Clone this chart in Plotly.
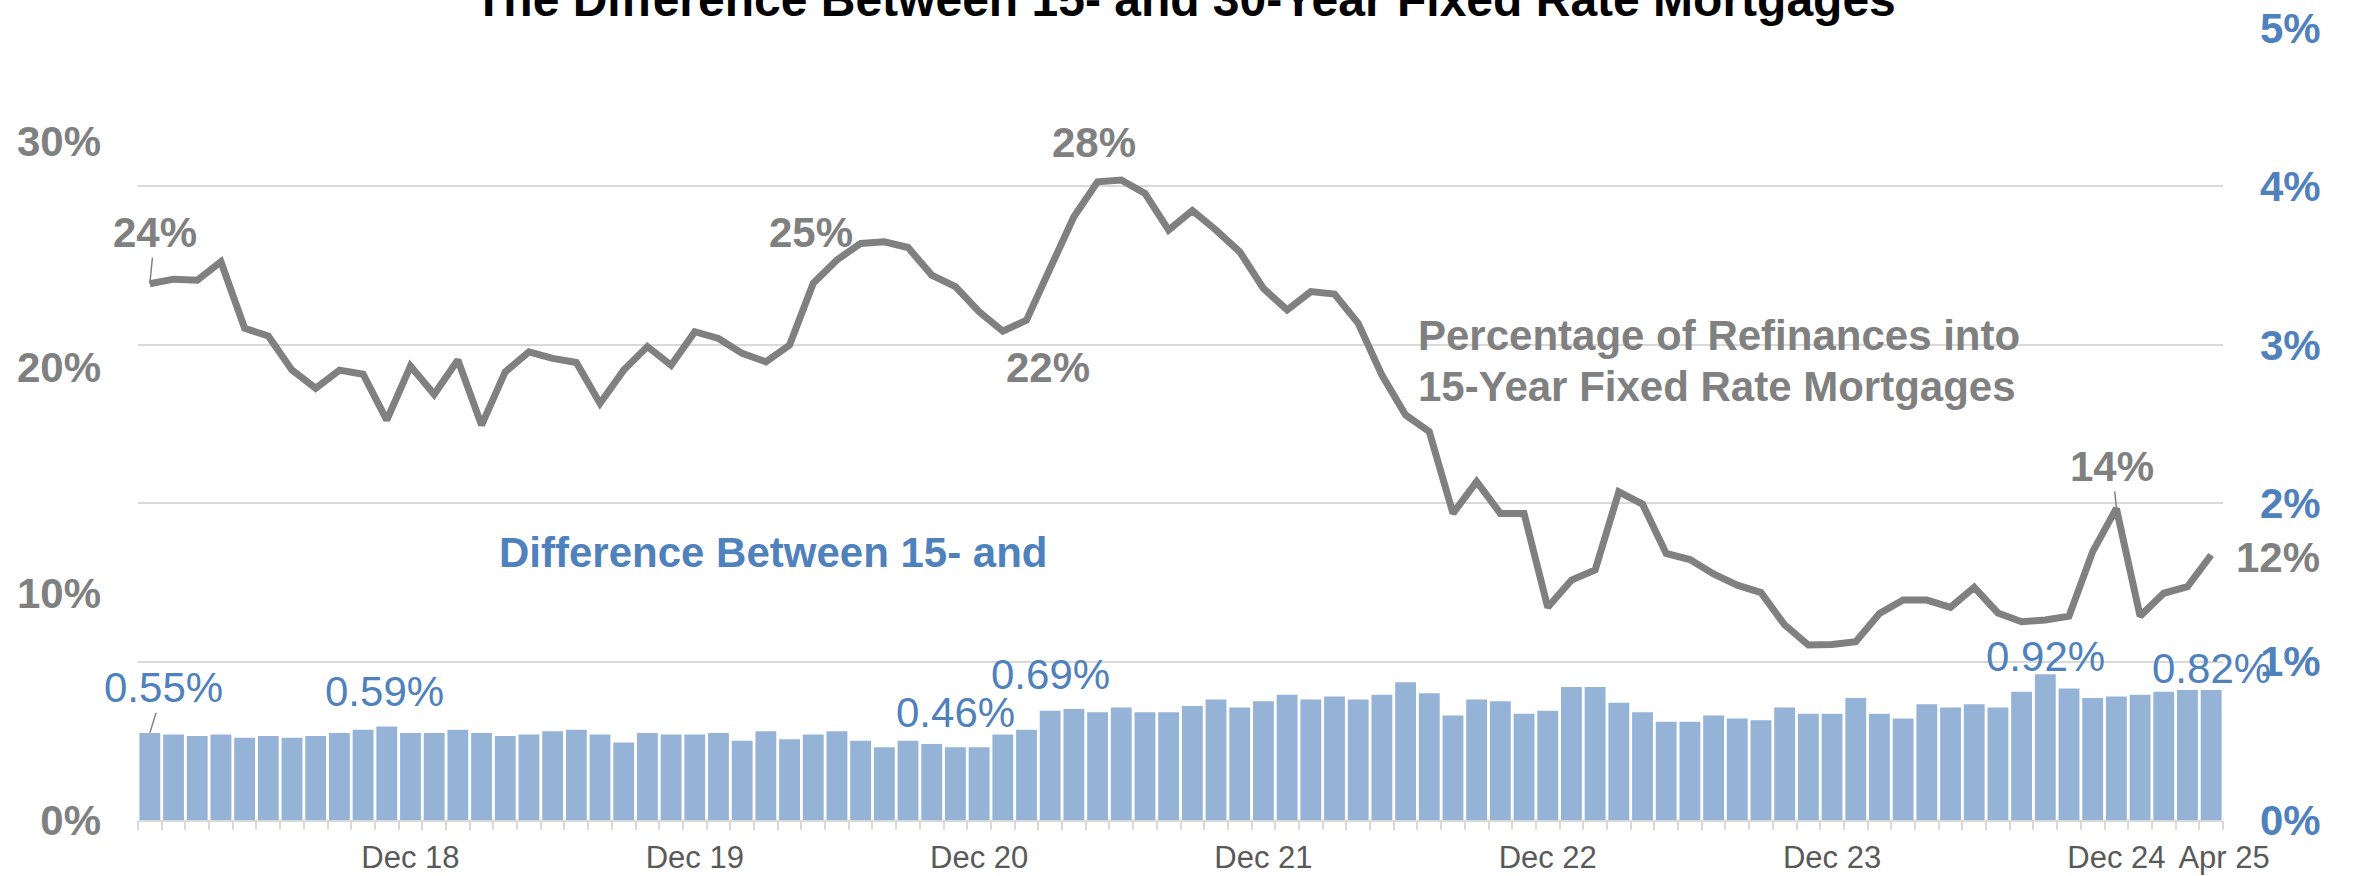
import plotly.graph_objects as go
import pandas as pd

# ---------------- data ----------------
months = [d.strftime("%b %y") for d in pd.date_range("2018-01-01", "2025-04-01", freq="MS")]

# Percentage of refinances into 15-year fixed rate mortgages (left axis, %)
refi_15yr_share = [
    23.7, 23.9, 23.85, 24.67, 21.73, 21.39, 19.88, 19.08, 19.88, 19.7, 17.67, 20.06,
    18.81, 20.33, 17.45, 19.8, 20.69, 20.4, 20.22, 18.41, 19.88, 20.92, 20.1, 21.58,
    21.28, 20.62, 20.25, 20.99, 23.72, 24.75, 25.48, 25.55, 25.3, 24.08, 23.57, 22.46,
    21.6, 22.09, 24.38, 26.66, 28.2, 28.28, 27.69, 26.07, 26.93, 26.07, 25.11, 23.49,
    22.54, 23.35, 23.24, 21.95, 19.66, 17.9, 17.16, 13.55, 14.95, 13.55, 13.55, 9.4,
    10.6, 11.05, 14.5, 13.96, 11.78, 11.51, 10.87, 10.38, 10.05, 8.62, 7.73, 7.76,
    7.88, 9.13, 9.72, 9.72, 9.4, 10.28, 9.15, 8.76, 8.84, 9.01, 11.86, 13.77,
    9.01, 10.02, 10.31, 11.71,
]

# Difference between 15- and 30-year fixed rates (right axis, %)
rate_spread = [
    0.55, 0.54, 0.53, 0.54, 0.52, 0.53, 0.52, 0.53, 0.55, 0.57, 0.59, 0.55,
    0.55, 0.57, 0.55, 0.53, 0.54, 0.56, 0.57, 0.54, 0.49, 0.55, 0.54, 0.54,
    0.55, 0.50, 0.56, 0.51, 0.54, 0.56, 0.50, 0.46, 0.50, 0.48, 0.46, 0.46,
    0.54, 0.57, 0.69, 0.70, 0.68, 0.71, 0.68, 0.68, 0.72, 0.76, 0.71, 0.75,
    0.79, 0.76, 0.78, 0.76, 0.79, 0.87, 0.80, 0.66, 0.76, 0.75, 0.67, 0.69,
    0.84, 0.84, 0.74, 0.68, 0.62, 0.62, 0.66, 0.64, 0.63, 0.71, 0.67, 0.67,
    0.77, 0.67, 0.64, 0.73, 0.71, 0.73, 0.71, 0.81, 0.92, 0.83, 0.77, 0.78,
    0.79, 0.81, 0.82, 0.82,
]

x_tick_vals = ["Dec 18", "Dec 19", "Dec 20", "Dec 21", "Dec 22", "Dec 23", "Dec 24", "Apr 25"]
x_tick_text = ["Dec 18", "Dec 19", "Dec 20", "Dec 21", "Dec 22", "Dec 23", "Dec 24",
               "\u00a0\u00a0\u00a0Apr 25"]
left_ticks = [0, 10, 20, 30]
right_ticks = [0, 1, 2, 3, 4, 5]

# indices of labelled points
line_label_idx = [0, 30, 36, 40, 83, 87]
bar_label_idx = [0, 10, 34, 38, 80, 87]

# ---------------- style ----------------
FONT = "Liberation Sans, Arial, sans-serif"
GRAY = "#808080"
BLUE = "#4F81BD"
BAR = "#95B3D7"
GRID = "#D9D9D9"
W, H = 2353, 876
ML, MR, MT, MB = 138, 130, 28, 56
PH = H - MT - MB
PW = W - ML - MR


def py(p):  # pixel row -> paper y
    return (H - MB - p) / PH


def px(p):  # pixel column -> paper x
    return (p - ML) / PW


fig = go.Figure()

fig.add_trace(go.Bar(
    x=months, y=rate_spread, yaxis="y2", marker=dict(color=BAR, line=dict(width=0)),
    showlegend=False, hoverinfo="x+y",
))
fig.add_trace(go.Scatter(
    x=months, y=refi_15yr_share, yaxis="y", mode="lines",
    line=dict(color=GRAY, width=7), showlegend=False,
))
# invisible helper trace for the boundary tick axis
fig.add_trace(go.Scatter(x=[-0.5], y=[0], xaxis="x2", yaxis="y", mode="markers",
                         marker=dict(opacity=0), showlegend=False, hoverinfo="skip"))

ann = []
# title (cut off at the top like the reference)
ann.append(dict(text="The Difference Between 15- and 30-Year Fixed Rate Mortgages",
                xref="paper", yref="paper", x=px(1185), y=py(-1), xanchor="center",
                yanchor="middle", showarrow=False,
                font=dict(family=FONT, size=48, color="black", weight="bold")))
# series captions
ann.append(dict(text="Percentage of Refinances into", xref="paper", yref="paper",
                x=px(1416), y=py(336), xanchor="left", yanchor="middle", showarrow=False,
                font=dict(family=FONT, size=42, color=GRAY, weight="bold")))
ann.append(dict(text="15-Year Fixed Rate Mortgages", xref="paper", yref="paper",
                x=px(1416), y=py(386), xanchor="left", yanchor="middle", showarrow=False,
                font=dict(family=FONT, size=42, color=GRAY, weight="bold")))
ann.append(dict(text="Difference Between 15- and", xref="paper", yref="paper",
                x=px(497), y=py(552), xanchor="left", yanchor="middle", showarrow=False,
                font=dict(family=FONT, size=42, color=BLUE, weight="bold")))

# line data labels
lfont = dict(family=FONT, size=42, color=GRAY, weight="bold")
line_label_pos = {
    0: dict(showarrow=True, ax=5, ay=-51),
    30: dict(showarrow=False, xanchor="right", xshift=-6, yshift=11),
    36: dict(showarrow=False, xshift=45, yshift=-36),
    40: dict(showarrow=False, xshift=-4, yshift=39),
    83: dict(showarrow=True, ax=-4, ay=-42),
    87: dict(showarrow=False, xanchor="left", xshift=23, yshift=-2),
}
for i in line_label_idx:
    a = dict(text=f"{refi_15yr_share[i]:.0f}%", xref="x", yref="y", x=months[i],
             y=refi_15yr_share[i], font=lfont, yanchor="middle",
             arrowhead=0, arrowwidth=1.5, arrowcolor=GRAY, standoff=0)
    a.update(line_label_pos[i])
    ann.append(a)

# bar data labels
bfont = dict(family=FONT, size=42, color=BLUE)
bar_label_pos = {
    0: dict(showarrow=True, ax=14, ay=-45),
    10: dict(showarrow=False, xshift=-2, yshift=35),
    34: dict(showarrow=False, yshift=35),
    38: dict(showarrow=False, yshift=36),
    80: dict(showarrow=False, yshift=18),
    87: dict(showarrow=False, yshift=22),
}
for i in bar_label_idx:
    a = dict(text=f"{rate_spread[i]:.2f}%", xref="x", yref="y2", x=months[i],
             y=rate_spread[i], font=bfont, yanchor="middle",
             arrowhead=0, arrowwidth=1.5, arrowcolor=GRAY, standoff=0)
    a.update(bar_label_pos[i])
    ann.append(a)

fig.update_layout(
    width=W, height=H, autosize=False,
    margin=dict(l=ML, r=MR, t=MT, b=MB, pad=0, autoexpand=False),
    paper_bgcolor="white", plot_bgcolor="white",
    bargap=0.12,
    font=dict(family=FONT),
    annotations=ann,
    xaxis=dict(
        type="category", range=[-0.5, len(months) - 0.5],
        tickmode="array", tickvals=x_tick_vals, ticktext=x_tick_text,
        tickangle=0, automargin=False,
        ticks="", showgrid=False, zeroline=False,
        showline=True, linecolor=GRID, linewidth=2,
        tickfont=dict(family=FONT, size=31, color="#595959"),
        ticklabelstandoff=9,
    ),
    xaxis2=dict(
        type="linear", overlaying="x", anchor="y", side="bottom",
        range=[-0.5, len(months) - 0.5], automargin=False,
        tickmode="array", tickvals=[i - 0.5 for i in range(len(months) + 1)],
        ticks="outside", ticklen=9, tickwidth=2, tickcolor=GRID,
        showticklabels=False, showgrid=False, zeroline=False, showline=False,
    ),
    yaxis=dict(
        range=[0, 35], tickmode="array", tickvals=left_ticks,
        ticktext=[f"{v}%" for v in left_ticks], automargin=False,
        showgrid=False, zeroline=False, showline=False, ticks="",
        tickfont=dict(family=FONT, size=42, color=GRAY, weight="bold"),
        ticklabelstandoff=36,
    ),
    yaxis2=dict(
        range=[0, 5], overlaying="y", side="right", anchor="x",
        tickmode="array", tickvals=right_ticks, automargin=False,
        ticktext=[f"{v}%" for v in right_ticks],
        showgrid=True, gridcolor=GRID, gridwidth=2, zeroline=False, showline=False,
        ticks="",
        tickfont=dict(family=FONT, size=42, color=BLUE, weight="bold"),
        ticklabelstandoff=36,
    ),
)

fig.write_html("out.html", config={"displayModeBar": False},
               post_script="document.body.style.margin='0';")
